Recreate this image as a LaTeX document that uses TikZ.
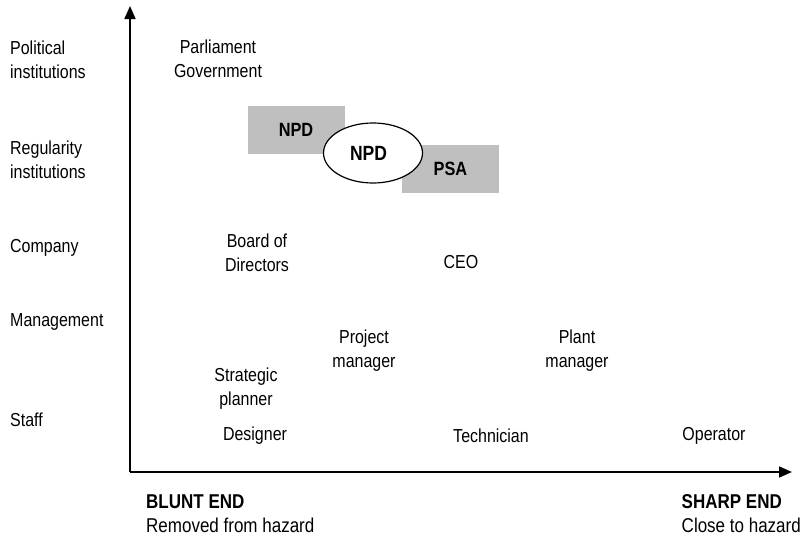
\documentclass[tikz,border=0pt]{standalone}
\usepackage{fontspec}
\setmainfont[FakeStretch=0.85]{Liberation Sans}
\usetikzlibrary{arrows.meta,shapes.geometric}
\begin{document}
\begin{tikzpicture}[x=1pt,y=-1pt,
  txt/.style={font=\fontsize{18.8}{24}\selectfont, inner sep=0pt, align=center},
  lvl/.style={txt, anchor=west, align=left},
  org/.style={txt, font=\fontsize{19.2}{24}\selectfont\bfseries},
  endlabel/.style={txt, font=\fontsize{20}{24}\selectfont, align=left},
  authority/.style={fill=black!25, draw=none, minimum width=97pt, minimum height=48pt},
  axis/.style={line width=1.6pt, -{Triangle[length=13pt,width=11pt]}}]
\useasboundingbox (0,0) rectangle (807,538);

% axes
\coordinate (origin) at (130,472);
\coordinate (ytop) at (130,6);
\coordinate (xend) at (792,472);
\draw[axis] (origin) -- (ytop);
\draw[axis] (origin) -- (xend);

% hierarchy levels
\node[lvl] (political) at (10,60) {Political\\institutions};
\node[lvl] (regulatory) at (10,160) {Regularity\\institutions};
\node[lvl] (company) at (10,248) {Company};
\node[lvl] (management) at (10,322) {Management};
\node[lvl] (staff) at (10,420) {Staff};

% actors
\node[txt] (parliament) at (218,59) {Parliament\\Government};
\node[authority] (npdbox) at (296,130) {};
\node[authority] (psabox) at (450.5,168.5) {};
\node[org] (npdtext) at (296,130) {NPD};
\node[org] (psatext) at (450.5,169) {PSA};
\node[draw, fill=white, line width=1.2pt, ellipse, minimum width=99pt, minimum height=60pt, inner sep=0pt] (npd) at (373,153) {};
\node[org, font=\fontsize{20.6}{24}\selectfont\bfseries] (npdlabel) at (368.5,153) {NPD};
\node[txt] (board) at (257,253) {Board of\\Directors};
\node[txt] (ceo) at (461,262) {CEO};
\node[txt] (project) at (364,351) {Project\\manager};
\node[txt] (plant) at (577,351) {Plant\\manager};
\node[txt] (strategic) at (246,389) {Strategic\\planner};
\node[txt] (designer) at (255,436) {Designer};
\node[txt] (technician) at (491,436) {Technician};
\node[txt] (operator) at (714,436) {Operator};

% axis ends
\node[endlabel, anchor=west] (blunt) at (146,514) {\textbf{BLUNT END}\\Removed from hazard};
\node[endlabel, anchor=east] (sharp) at (801,514) {\textbf{SHARP END}\\Close to hazard};
\end{tikzpicture}
\end{document}
